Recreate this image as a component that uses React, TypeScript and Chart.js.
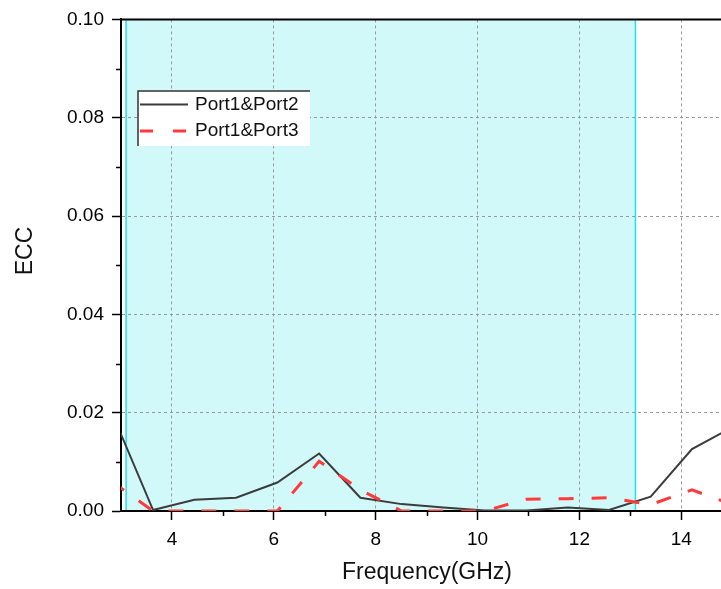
import React, { useEffect, useRef } from "react";
import { Chart, registerables } from "chart.js";

Chart.register(...registerables);

const freqGHz = [2.82, 3.63, 4.44, 5.26, 6.07, 6.89, 7.7, 8.51, 9.33, 10.14, 10.96, 11.77, 12.58, 13.4, 14.21, 15.03];
const eccPort12 = [0.02, 0.0002, 0.0023, 0.0027, 0.0058, 0.0117, 0.0027, 0.0014, 0.0007, 0.0001, 0.0001, 0.0007, 0.0002, 0.0029, 0.0126, 0.0172];
const eccPort13 = [0.006, 0.0, 0.0, 0.0, 0.0, 0.0101, 0.0043, 0.0, 0.0, 0.0, 0.0024, 0.0025, 0.0027, 0.0013, 0.0043, 0.0012];
const seriesNames = ["Port1&Port2", "Port1&Port3"];
const xMajorTicks = [4, 6, 8, 10, 12, 14];
const xMinorTicks = [5, 7, 9, 11, 13];
const yMinorTicks = [0.01, 0.03, 0.05, 0.07, 0.09];
const bandRange = [3.1, 13.1];
const xRange = [3, 14.78];
const yRange = [0, 0.1];
const xTitle = "Frequency(GHz)";
const yTitle = "ECC";

const FONT = "'Liberation Sans', Arial, sans-serif";
const BLACK_LINE = "#3c3c3c";
const RED_LINE = "#ff3a3a";
const RED_DASH = [15, 18];

const decorPlugin = {
  id: "decor",
  beforeDraw(chart: any) {
    const { ctx, chartArea } = chart;
    const x = chart.scales.x;
    const x0 = x.getPixelForValue(bandRange[0]);
    const x1 = x.getPixelForValue(bandRange[1]);
    ctx.save();
    ctx.fillStyle = "#d2f9f9";
    ctx.fillRect(x0, chartArea.top, x1 - x0, chartArea.bottom - chartArea.top);
    ctx.strokeStyle = "#22e0e8";
    ctx.lineWidth = 1.5;
    ctx.beginPath();
    ctx.moveTo(x0, chartArea.top);
    ctx.lineTo(x0, chartArea.bottom);
    ctx.moveTo(x1, chartArea.top);
    ctx.lineTo(x1, chartArea.bottom);
    ctx.stroke();
    ctx.restore();
  },
  afterDraw(chart: any) {
    const { ctx, chartArea } = chart;
    const x = chart.scales.x;
    const y = chart.scales.y;
    ctx.save();
    // top border
    ctx.strokeStyle = "#000";
    ctx.lineWidth = 2;
    ctx.beginPath();
    ctx.moveTo(chartArea.left, chartArea.top);
    ctx.lineTo(chartArea.right, chartArea.top);
    ctx.stroke();
    // minor ticks
    ctx.lineWidth = 1.5;
    ctx.beginPath();
    xMinorTicks.forEach((v) => {
      const px = Math.round(x.getPixelForValue(v)) + 0.5;
      ctx.moveTo(px, chartArea.bottom);
      ctx.lineTo(px, chartArea.bottom + 5);
    });
    yMinorTicks.forEach((v) => {
      const py = Math.round(y.getPixelForValue(v)) + 0.5;
      ctx.moveTo(chartArea.left, py);
      ctx.lineTo(chartArea.left - 5, py);
    });
    ctx.stroke();

    // legend
    const lx = 138, ly = 91, lw = 172, lh = 55;
    ctx.fillStyle = "#ffffff";
    ctx.fillRect(lx, ly, lw, lh);
    ctx.strokeStyle = "#333";
    ctx.lineWidth = 1.5;
    ctx.beginPath();
    ctx.moveTo(lx, ly + lh);
    ctx.lineTo(lx, ly);
    ctx.lineTo(lx + lw, ly);
    ctx.stroke();
    const rows = [104.5, 131];
    ctx.lineWidth = 2;
    ctx.strokeStyle = BLACK_LINE;
    ctx.beginPath();
    ctx.moveTo(140, rows[0]);
    ctx.lineTo(188, rows[0]);
    ctx.stroke();
    ctx.lineWidth = 3;
    ctx.strokeStyle = RED_LINE;
    ctx.setLineDash([13, 20]);
    ctx.beginPath();
    ctx.moveTo(140, rows[1]);
    ctx.lineTo(188, rows[1]);
    ctx.stroke();
    ctx.setLineDash([]);
    ctx.fillStyle = "#111";
    ctx.font = `19px ${FONT}`;
    ctx.textAlign = "left";
    ctx.textBaseline = "middle";
    ctx.fillText(seriesNames[0], 195, rows[0]);
    ctx.fillText(seriesNames[1], 195, rows[1]);

    // axis titles
    ctx.font = `23px ${FONT}`;
    ctx.textAlign = "center";
    ctx.textBaseline = "middle";
    ctx.fillText(xTitle, 427, 573);
    ctx.translate(26, 251);
    ctx.rotate(-Math.PI / 2);
    ctx.fillText(yTitle, 0, 0);
    ctx.restore();
  },
};

export default function App() {
  const ref = useRef<HTMLCanvasElement | null>(null);
  useEffect(() => {
    if (!ref.current) return;
    const chart = new Chart(ref.current, {
      type: "line",
      data: {
        datasets: [
          {
            label: seriesNames[0],
            data: freqGHz.map((f, i) => ({ x: f, y: eccPort12[i] })),
            borderColor: BLACK_LINE,
            borderWidth: 2,
            pointRadius: 0,
            tension: 0,
            order: 1,
          },
          {
            label: seriesNames[1],
            data: freqGHz.map((f, i) => ({ x: f, y: eccPort13[i] })),
            borderColor: RED_LINE,
            borderWidth: 3,
            borderDash: RED_DASH,
            pointRadius: 0,
            tension: 0,
            order: 0,
          },
        ],
      },
      options: {
        responsive: false,
        animation: false,
        devicePixelRatio: 1,
        layout: { padding: { top: 19, right: 0, left: 0, bottom: 0 } },
        plugins: { legend: { display: false }, tooltip: { enabled: false }, title: { display: false } },
        scales: {
          x: {
            type: "linear",
            min: xRange[0],
            max: xRange[1],
            afterBuildTicks: (scale: any) => {
              scale.ticks = xMajorTicks.map((v) => ({ value: v }));
            },
            afterFit: (scale: any) => {
              scale.height = 78;
            },
            grid: {
              color: "#9a9a9a",
              lineWidth: 1,
              drawTicks: true,
              tickLength: 9,
              tickColor: "#000",
              tickWidth: 1.5,
            },
            border: { display: true, color: "#000", width: 2, dash: [3, 3] },
            ticks: {
              color: "#000",
              font: { family: FONT, size: 19 },
              padding: 8,
              maxRotation: 0,
              autoSkip: false,
              callback: (v: any) => String(v),
            },
          },
          y: {
            type: "linear",
            min: yRange[0],
            max: yRange[1],
            afterFit: (scale: any) => {
              scale.width = 121;
            },
            grid: {
              color: "#9a9a9a",
              lineWidth: 1,
              drawTicks: true,
              tickLength: 9,
              tickColor: "#000",
              tickWidth: 1.5,
            },
            border: { display: true, color: "#000", width: 2, dash: [3, 3] },
            ticks: {
              stepSize: 0.02,
              color: "#000",
              font: { family: FONT, size: 19 },
              padding: 8,
              callback: (v: any) => Number(v).toFixed(2),
            },
          },
        },
      },
      plugins: [decorPlugin],
    } as any);
    return () => chart.destroy();
  }, []);
  return (
    <div style={{ position: "absolute", left: 0, top: 0, width: 721, height: 589, background: "#fff" }}>
      <canvas ref={ref} width={721} height={589} style={{ display: "block" }} />
    </div>
  );
}
